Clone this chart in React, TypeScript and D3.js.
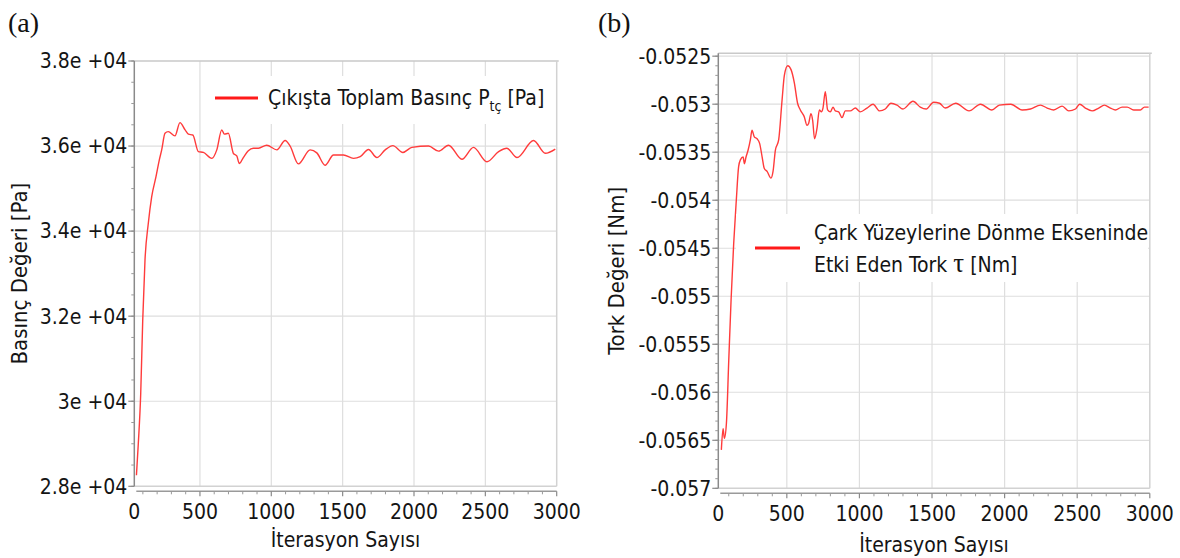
import React from 'react';
import * as d3 from 'd3';

// Axis ticks
const iterTicks = [0, 500, 1000, 1500, 2000, 2500, 3000];
const pressureTicks = [28000, 30000, 32000, 34000, 36000, 38000];
const pressureTickLabels = ['2.8e +04', '3e +04', '3.2e +04', '3.4e +04', '3.6e +04', '3.8e +04'];
const torqueTicks = [-0.057, -0.0565, -0.056, -0.0555, -0.055, -0.0545, -0.054, -0.0535, -0.053, -0.0525];
const torqueTickLabels = ['-0.057', '-0.0565', '-0.056', '-0.0555', '-0.055', '-0.0545', '-0.054', '-0.0535', '-0.053', '-0.0525'];

// (a) outlet total pressure history
const pressureIter = [55, 68, 85, 99, 115, 138, 162, 192, 215, 232, 255, 278, 325, 360, 396, 419, 450, 489, 524, 583,
  618, 653, 671, 699, 734, 758, 776, 804, 839, 874, 910, 968, 1039, 1097, 1132, 1190, 1272, 1319, 1377, 1436,
  1506, 1576, 1623, 1681, 1740, 1798, 1852, 1922, 1985, 2102, 2172, 2242, 2336, 2417, 2511, 2593, 2651, 2722, 2838, 2920, 2990];
const pressureVal = [28260, 29000, 30180, 31900, 33320, 34180, 34810, 35280, 35670, 35910, 36300, 36340, 36240, 36550, 36380, 36280, 36260, 35870, 35850, 35710,
  35910, 36380, 36280, 36300, 35830, 35770, 35590, 35730, 35890, 35950, 35950, 36020, 35910, 36130, 36000, 35580, 35910, 35840, 35550, 35790,
  35790, 35710, 35750, 35920, 35730, 35910, 36010, 35850, 35970, 36000, 35880, 36020, 35690, 35970, 35630, 35870, 35950, 35730, 36130, 35830, 35930];

// (b) torque about the rotation axis
const torqueIter = [49, 61, 70, 84, 100, 116, 134, 152, 168, 180, 199, 208, 219, 233, 249, 260, 276, 295, 313, 330,
  345, 364, 391, 405, 421, 444, 467, 483, 506, 529, 552, 574, 593, 620, 639, 650, 666, 678, 691, 708,
  724, 738, 749, 765, 781, 800, 818, 834, 857, 880, 903, 937, 972, 1006, 1052, 1094, 1139, 1178, 1217, 1259,
  1300, 1369, 1419, 1460, 1511, 1552, 1591, 1663, 1755, 1834, 1912, 1964, 2043, 2121, 2178, 2247, 2293, 2338, 2396, 2442,
  2488, 2517, 2556, 2603, 2648, 2687, 2729, 2763, 2809, 2844, 2889, 2935, 2963, 2992];
const torqueVal = [-0.05660, -0.05638, -0.05648, -0.05632, -0.05567, -0.05504, -0.05445, -0.05400, -0.05365, -0.05358, -0.05355, -0.05362, -0.05355, -0.05348, -0.05337, -0.05327, -0.05334, -0.05336, -0.05341, -0.05355,
  -0.05367, -0.05370, -0.05377, -0.05370, -0.05348, -0.05337, -0.05296, -0.05270, -0.05260, -0.05264, -0.05278, -0.05299, -0.05306, -0.05313, -0.05322, -0.05320, -0.05310, -0.05317, -0.05336, -0.05325,
  -0.05306, -0.05308, -0.05304, -0.05287, -0.05306, -0.05308, -0.05303, -0.05307, -0.05308, -0.05314, -0.05307, -0.05307, -0.05304, -0.05308, -0.05304, -0.05300, -0.05307, -0.05305, -0.05299, -0.05301,
  -0.05305, -0.05297, -0.05303, -0.05305, -0.05298, -0.05299, -0.05304, -0.05299, -0.05307, -0.05300, -0.05306, -0.05301, -0.05300, -0.05306, -0.05305, -0.05301, -0.05304, -0.05306, -0.05302, -0.05307,
  -0.05305, -0.05300, -0.05304, -0.05307, -0.05304, -0.05301, -0.05304, -0.05306, -0.05303, -0.05303, -0.05306, -0.05306, -0.05303, -0.05303];

const FONT = "'DejaVu Sans Condensed', 'DejaVu Sans', sans-serif";
const SERIF = "'Liberation Serif', 'Times New Roman', serif";
const LINE_RED = '#ff3b3b';
const TEXT = '#141414';

type PanelProps = {
  left: number; right: number; top: number; bottom: number;
  xStart: number;
  yDomain: [number, number];
  yTicks: number[]; yTickLabels: string[]; yMinorStep: number;
  xs: number[]; ys: number[];
  yTitle: string; yTitleX: number;
  xTitleY: number;
  tag: string; tagX: number;
  legend: React.ReactNode;
};

function Panel(p: PanelProps) {
  const x = d3.scaleLinear().domain([p.xStart, 3000]).range([p.left, p.right]).clamp(true);
  const y = d3.scaleLinear().domain(p.yDomain).range([p.bottom, p.top]);
  const axisY = p.bottom + 5;
  const minorX = d3.range(100, 3001, 100).filter((v) => v % 500 !== 0 && v > p.xStart);
  const [y0, y1] = p.yDomain;
  const minorY = d3.range(Math.ceil(y0 / p.yMinorStep - 1e-6), Math.floor(y1 / p.yMinorStep + 1e-6) + 1)
    .map((k) => k * p.yMinorStep);
  const line = d3.line<number>()
    .x((_, i) => x(p.xs[i]))
    .y((v) => y(v))
    .curve(d3.curveMonotoneX);
  const cx = (p.left + p.right) / 2;
  const cy = (p.top + p.bottom) / 2;
  return (
    <g>
      <text x={p.tagX} y={32} fontFamily={SERIF} fontSize={28} fill="#111">{p.tag}</text>
      {/* grid */}
      {iterTicks.filter((t) => t > 0 && t < 3000).map((t) => (
        <line key={'gx' + t} x1={x(t)} x2={x(t)} y1={p.top} y2={p.bottom} stroke="#dedede" strokeWidth={1.2} />
      ))}
      {p.yTicks.filter((t) => y(t) > p.top + 1 && y(t) < p.bottom - 1).map((t) => (
        <line key={'gy' + t} x1={p.left} x2={p.right} y1={y(t)} y2={y(t)} stroke="#dedede" strokeWidth={1.2} />
      ))}
      {/* frame */}
      <line x1={p.left} x2={p.right + 2} y1={p.top} y2={p.top} stroke="#c9c9c9" strokeWidth={1.5} />
      <line x1={p.right} x2={p.right} y1={p.top} y2={p.bottom} stroke="#d2d2d2" strokeWidth={1.5} />
      <line x1={p.left} x2={p.right} y1={p.bottom} y2={p.bottom} stroke="#d2d2d2" strokeWidth={1.5} />
      {/* data */}
      <path d={line(p.ys) ?? ''} fill="none" stroke={LINE_RED} strokeWidth={1.4} strokeLinejoin="round" />
      {p.legend}
      {/* y axis */}
      <line x1={p.left} x2={p.left} y1={p.top} y2={p.bottom} stroke="#8a8a8a" strokeWidth={1.5} />
      {minorY.map((t) => (
        <line key={'my' + t} x1={p.left - 3} x2={p.left} y1={y(t)} y2={y(t)} stroke="#9a9a9a" strokeWidth={1} />
      ))}
      {p.yTicks.map((t, i) => (
        <g key={'ty' + t}>
          <line x1={p.left - 6} x2={p.left} y1={y(t)} y2={y(t)} stroke="#8a8a8a" strokeWidth={1.2} />
          <text x={p.left - 7} y={y(t)} dy="0.35em" textAnchor="end" fontFamily={FONT} fontSize={21} fill={TEXT}>{p.yTickLabels[i]}</text>
        </g>
      ))}
      {/* x axis */}
      <line x1={p.left + 2} x2={p.right} y1={axisY} y2={axisY} stroke="#9a9a9a" strokeWidth={1.5} />
      {minorX.map((t) => (
        <line key={'mx' + t} x1={x(t)} x2={x(t)} y1={axisY} y2={axisY + 3} stroke="#9a9a9a" strokeWidth={1} />
      ))}
      {iterTicks.map((t) => (
        <g key={'tx' + t}>
          {t > 0 && <line x1={x(t)} x2={x(t)} y1={axisY} y2={axisY + 5} stroke="#8a8a8a" strokeWidth={1.2} />}
          <text x={x(t)} y={axisY + 28} textAnchor="middle" fontFamily={FONT} fontSize={21} fill={TEXT}>{t}</text>
        </g>
      ))}
      <text x={cx} y={p.xTitleY} textAnchor="middle" fontFamily={FONT} fontSize={21} fill={TEXT}>İterasyon Sayısı</text>
      <text transform={`translate(${p.yTitleX},${cy}) rotate(-90)`} textAnchor="middle" fontFamily={FONT} fontSize={22} fill={TEXT}>{p.yTitle}</text>
    </g>
  );
}

export default function App() {
  const legendA = (
    <g>
      <rect x={205} y={76} width={350} height={48} fill="#ffffff" />
      <line x1={215} x2={258} y1={98} y2={98} stroke="#ff1a1a" strokeWidth={3} />
      <text x={268} y={105} fontFamily={FONT} fontSize={21} fill={TEXT}>
        Çıkışta Toplam Basınç P
        <tspan fontSize={14} dy={6}>tç</tspan>
        <tspan dy={-6}> [Pa]</tspan>
      </text>
    </g>
  );
  const legendB = (
    <g>
      <rect x={736} y={214} width={412} height={68} fill="#ffffff" />
      <line x1={755} x2={800} y1={248} y2={248} stroke="#ff1a1a" strokeWidth={3} />
      <text x={814} y={240} fontFamily={FONT} fontSize={21} fill={TEXT}>Çark Yüzeylerine Dönme Ekseninde</text>
      <text x={814} y={272} fontFamily={FONT} fontSize={21} fill={TEXT}>
        Etki Eden Tork{' '}
        <tspan fontFamily={SERIF} fontSize={27}>τ</tspan>
        <tspan> [Nm]</tspan>
      </text>
    </g>
  );
  return (
    <svg width={1180} height={558} style={{ position: 'absolute', left: 0, top: 0, background: '#ffffff' }}>
      <rect x={0} y={0} width={1180} height={558} fill="#ffffff" />
      <Panel
        left={134.3} right={556.7} top={61} bottom={486.3}
        xStart={40}
        yDomain={[28000, 38000]}
        yTicks={pressureTicks} yTickLabels={pressureTickLabels} yMinorStep={500}
        xs={pressureIter} ys={pressureVal}
        yTitle="Basınç Değeri [Pa]" yTitleX={27}
        xTitleY={547}
        tag="(a)" tagX={8}
        legend={legendA}
      />
      <Panel
        left={718.3} right={1149.8} top={53.3} bottom={488.3}
        xStart={28}
        yDomain={[-0.057, -0.05247]}
        yTicks={torqueTicks} yTickLabels={torqueTickLabels} yMinorStep={0.0001}
        xs={torqueIter} ys={torqueVal}
        yTitle="Tork Değeri [Nm]" yTitleX={624}
        xTitleY={552}
        tag="(b)" tagX={598}
        legend={legendB}
      />
    </svg>
  );
}
